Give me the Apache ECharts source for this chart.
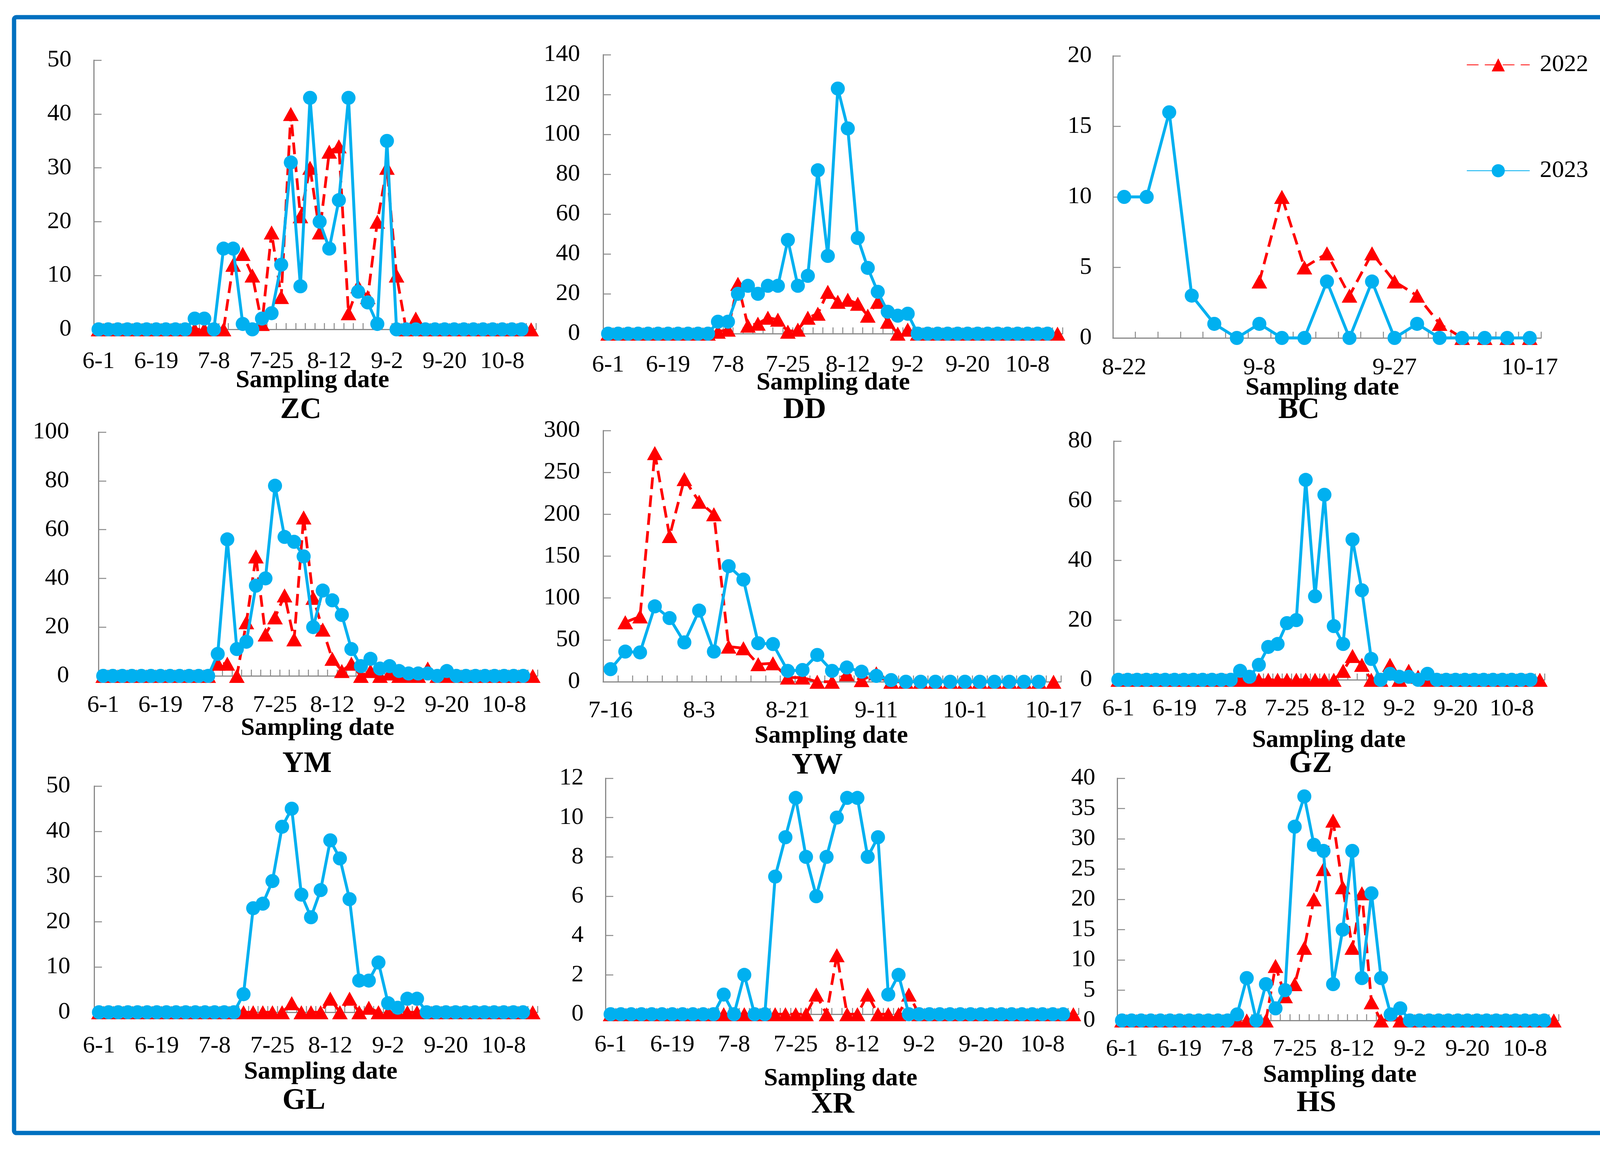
<!DOCTYPE html>
<html>
<head>
<meta charset="utf-8">
<script src="https://cdn.jsdelivr.net/npm/echarts@6/dist/echarts.min.js"></script>
<style>
html,body{margin:0;padding:0;background:#fff;}
#chart{width:4190px;height:2941px;}
</style>
</head>
<body>
<div id="chart"></div>
<script>
// ---------- categories (sampling dates) ----------
const dates46 = ['6-1','6-4','6-7','6-10','6-13','6-16','6-19','6-22','6-25','6-28','7-1','7-4','7-8','7-11','7-14','7-17','7-19','7-22','7-25','7-28','7-31','8-3','8-6','8-9','8-12','8-15','8-19','8-22','8-26','8-29','9-2','9-5','9-8','9-11','9-14','9-17','9-20','9-23','9-26','9-29','10-2','10-5','10-8','10-11','10-14','10-17'];
const datesBC = ['8-22','8-25','8-28','8-31','9-2','9-5','9-8','9-11','9-14','9-17','9-20','9-23','9-27','9-30','10-3','10-6','10-9','10-13','10-17'];
const datesYW = ['7-16','7-19','7-22','7-25','7-28','7-31','8-3','8-6','8-9','8-12','8-15','8-18','8-21','8-24','8-28','8-31','9-4','9-7','9-11','9-14','9-17','9-20','9-23','9-26','10-1','10-4','10-6','10-9','10-12','10-14','10-17'];

// ---------- series values ----------
const ZC_2022 = [0,0,0,0,0,0,0,0,0,0,0,0,0,0,12,14,10,1,18,6,40,21,30,18,33,34,3,8,6,20,30,10,0,2,0,0,0,0,0,0,0,0,0,0,0,0];
const ZC_2023 = [0,0,0,0,0,0,0,0,0,0,2,2,0,15,15,1,0,2,3,12,31,8,43,20,15,24,43,7,5,1,35,0,0,0,0,0,0,0,0,0,0,0,0,0,0];

const DD_2022 = [0,0,0,0,0,0,0,0,0,0,0,1,2,25,4,5,8,7,1,2,8,10,21,16,17,15,9,16,6,0,2,0,0,0,0,0,0,0,0,0,0,0,0,0,0,0];
const DD_2023 = [0,0,0,0,0,0,0,0,0,0,0,6,6,20,24,20,24,24,47,24,29,82,39,123,103,48,33,21,11,9,10,0,0,0,0,0,0,0,0,0,0,0,0,0,0];

const BC_2022 = [null,null,null,null,null,null,4,10,5,6,3,6,4,3,1,0,0,0,0];
const BC_2023 = [10,10,16,3,1,0,1,0,0,4,0,4,0,1,0,0,0,0,0];

const YM_2022 = [0,0,0,0,0,0,0,0,0,0,0,0,5,5,0,22,49,17,24,33,15,65,32,19,7,2,5,0,2,0,1,0,0,0,3,0,0,0,0,0,0,0,0,0,0,0];
const YM_2023 = [0,0,0,0,0,0,0,0,0,0,0,0,9,56,11,14,37,40,78,57,55,49,20,35,31,25,11,4,7,3,4,2,1,1,1,0,2,0,0,0,0,0,0,0,0];

const YW_2022 = [null,71,78,273,174,242,215,200,42,40,21,22,5,5,0,0,9,2,10,0,0,0,0,0,0,0,0,0,0,0,0];
const YW_2023 = [15,36,35,90,76,47,85,36,138,122,46,45,13,14,32,13,17,12,7,2,0,0,0,0,0,0,0,0,0,0];

const GZ_2022 = [0,0,0,0,0,0,0,0,0,0,0,0,0,0,0,0,0,0,0,0,0,0,0,0,3,8,5,0,0,5,0,3,1,0,0,0,0,0,0,0,0,0,0,0,0,0];
const GZ_2023 = [0,0,0,0,0,0,0,0,0,0,0,0,0,3,1,5,11,12,19,20,67,28,62,18,12,47,30,7,0,2,1,1,0,2,0,0,0,0,0,0,0,0,0,0,0];

const GL_2022 = [0,0,0,0,0,0,0,0,0,0,0,0,0,0,0,0,0,0,0,0,2,0,0,0,3,0,3,0,1,0,0,0,0,0,0,0,0,0,0,0,0,0,0,0,0,0];
const GL_2023 = [0,0,0,0,0,0,0,0,0,0,0,0,0,0,0,4,23,24,29,41,45,26,21,27,38,34,25,7,7,11,2,1,3,3,0,0,0,0,0,0,0,0,0,0,0];

const XR_2022 = [0,0,0,0,0,0,0,0,0,0,0,0,0,0,0,0,0,0,0,0,1,0,3,0,0,1,0,0,0,1,0,0,0,0,0,0,0,0,0,0,0,0,0,0,0,0];
const XR_2023 = [0,0,0,0,0,0,0,0,0,0,0,1,0,2,0,0,7,9,11,8,6,8,10,11,11,8,9,1,2,0,0,0,0,0,0,0,0,0,0,0,0,0,0,0,0];

const HS_2022 = [0,0,0,0,0,0,0,0,0,0,0,0,0,0,0,0,9,4,6,12,20,25,33,22,12,21,3,0,1,0,0,0,0,0,0,0,0,0,0,0,0,0,0,0,0,0];
const HS_2023 = [0,0,0,0,0,0,0,0,0,0,0,0,1,7,0,6,2,5,32,37,29,28,6,15,28,7,21,7,1,2,0,0,0,0,0,0,0,0,0,0,0,0,0,0,0];

// ---------- axis ranges / tick labels ----------
const panelNames = ['ZC','DD','BC','YM','YW','GZ','GL','XR','HS'];
const yMax      = [50,140,20,100,300,80,50,12,40];
const yStep     = [10,20,5,20,50,20,10,2,5];
const seriesName = ['2022','2023'];
const xAxisTitle = 'Sampling date';

const panelData = {
  ZC:{cats:dates46, a:ZC_2022, b:ZC_2023},
  DD:{cats:dates46, a:DD_2022, b:DD_2023},
  BC:{cats:datesBC, a:BC_2022, b:BC_2023},
  YM:{cats:dates46, a:YM_2022, b:YM_2023},
  YW:{cats:datesYW, a:YW_2022, b:YW_2023},
  GZ:{cats:dates46, a:GZ_2022, b:GZ_2023},
  GL:{cats:dates46, a:GL_2022, b:GL_2023},
  XR:{cats:dates46, a:XR_2022, b:XR_2023},
  HS:{cats:dates46, a:HS_2022, b:HS_2023}
};

// ---------- layout (pixels) ----------
const layout = [
  {l:240,  t:154,  w:1132, h:689, xm:52, ym:57, tx:770,  ty:1050, sx:800,  sy:974},
  {l:1544, t:140,  w:1176, h:714, xm:50, ym:59, tx:2060, ty:1050, sx:2133, sy:980},
  {l:2849, t:143,  w:1096, h:722, xm:46, ym:54, tx:3325, ty:1050, sx:3385, sy:993},
  {l:252,  t:1106, w:1124, h:624, xm:45, ym:75, tx:786,  ty:1956, sx:813,  sy:1864},
  {l:1544, t:1102, w:1172, h:643, xm:44, ym:59, tx:2092, ty:1960, sx:2128, sy:1884},
  {l:2851, t:1129, w:1103, h:611, xm:44, ym:55, tx:3355, ty:1956, sx:3402, sy:1895},
  {l:241,  t:2012, w:1135, h:579, xm:56, ym:61, tx:778,  ty:2818, sx:821,  sy:2744},
  {l:1550, t:1992, w:1211, h:604, xm:48, ym:56, tx:2132, ty:2828, sx:2152, sy:2761},
  {l:2860, t:1992, w:1130, h:620, xm:43, ym:56, tx:3370, ty:2824, sx:3430, sy:2752}
];

const FONT = 'Liberation Serif';
const AXIS_COLOR = '#8a8a8a';
const RED = '#FF0000';
const BLUE = '#00B0F0';

const grids = [], xAxes = [], yAxes = [], series = [], graphics = [];

panelNames.forEach((name, i) => {
  const L = layout[i];
  const d = panelData[name];
  grids.push({left:L.l, top:L.t, width:L.w, height:L.h, containLabel:false});
  xAxes.push({
    type:'category', gridIndex:i, data:d.cats, boundaryGap:true,
    axisLine:{show:true, onZero:false, lineStyle:{color:AXIS_COLOR, width:3}},
    axisTick:{show:true, inside:true, length:16, interval:0, alignWithLabel:false, lineStyle:{color:AXIS_COLOR, width:2.5}},
    axisLabel:{show:true, interval:5, margin:L.xm, color:'#000', fontFamily:FONT, fontSize:62},
    splitLine:{show:false}
  });
  yAxes.push({
    type:'value', gridIndex:i, min:0, max:yMax[i], interval:yStep[i],
    axisLine:{show:true, lineStyle:{color:AXIS_COLOR, width:3}},
    axisTick:{show:true, inside:true, length:20, lineStyle:{color:AXIS_COLOR, width:2.5}},
    axisLabel:{show:true, margin:L.ym, color:'#000', fontFamily:FONT, fontSize:62},
    splitLine:{show:false}
  });
  series.push({
    type:'line', name:seriesName[0], xAxisIndex:i, yAxisIndex:i, data:d.a,
    symbol:'triangle', symbolSize:[40,36], showAllSymbol:true, clip:false,
    lineStyle:{color:RED, width:7, type:[30,16]},
    itemStyle:{color:RED},
    emphasis:{disabled:true}, animation:false, z:2
  });
  series.push({
    type:'line', name:seriesName[1], xAxisIndex:i, yAxisIndex:i, data:d.b,
    symbol:'circle', symbolSize:36, showAllSymbol:true, clip:false,
    lineStyle:{color:BLUE, width:7.5},
    itemStyle:{color:BLUE},
    emphasis:{disabled:true}, animation:false, z:3
  });
  graphics.push({
    type:'text', x:L.sx, y:L.sy, z:10,
    style:{text:xAxisTitle, fill:'#000', font:"bold 64px 'Liberation Serif'", textAlign:'center', textVerticalAlign:'middle'}
  });
  graphics.push({
    type:'text', x:L.tx, y:L.ty, z:10,
    style:{text:name, fill:'#000', font:"bold 76px 'Liberation Serif'", textAlign:'center', textVerticalAlign:'middle'}
  });
});

// outer blue frame
graphics.push({
  type:'rect', z:0, silent:true,
  shape:{x:36, y:44, width:4118, height:2856, r:6},
  style:{fill:'none', stroke:'#0070C0', lineWidth:11}
});

const chart = echarts.init(document.getElementById('chart'), null, {renderer:'canvas'});
chart.setOption({
  backgroundColor:'#ffffff',
  animation:false,
  grid:grids,
  xAxis:xAxes,
  yAxis:yAxes,
  series:series,
  graphic:graphics,
  legend:{
    data:seriesName, orient:'vertical', left:3749, top:130,
    itemWidth:161, itemHeight:42, itemGap:209, selectedMode:false,
    textStyle:{color:'#000', fontFamily:FONT, fontSize:62, padding:[0,0,0,21]}
  }
});
</script>
</body>
</html>
